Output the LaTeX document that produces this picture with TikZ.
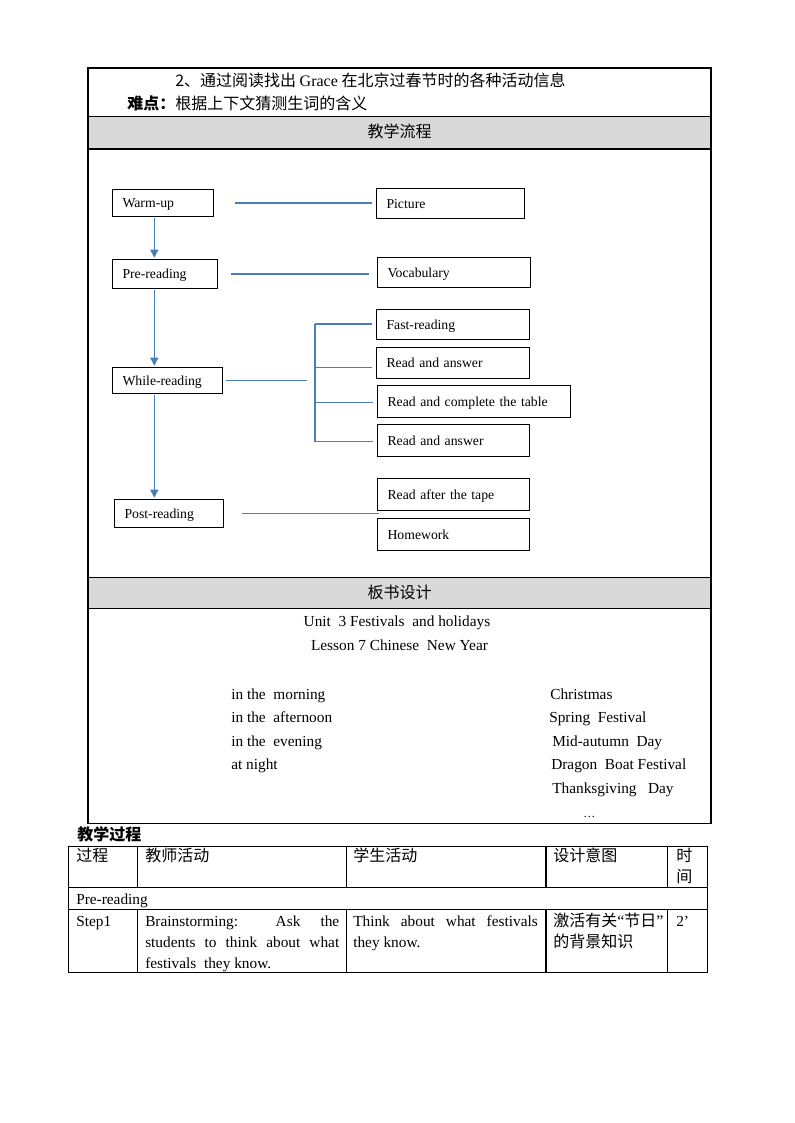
\documentclass[tikz,border=0pt]{standalone}
\usepackage{fontspec}
\setmainfont{Liberation Serif}
\newfontfamily\cjk{Noto Sans CJK SC}
\usetikzlibrary{arrows.meta}
\definecolor{linkblue}{RGB}{74,126,187}
\definecolor{bandgrey}{RGB}{217,217,217}

\begin{document}
\begin{tikzpicture}[x=0.75pt,y=-0.75pt,
  box/.style={draw,line width=0.8pt,anchor=north west,inner xsep=7.5pt,inner ysep=0pt,
    text depth=0pt,align=left,font=\fontsize{10.3}{12}\selectfont},
  link/.style={draw=linkblue,line width=1pt},
  flow/.style={link,shorten <=1pt,shorten >=1pt,-{Triangle[width=6pt,length=6pt]}},
  txt/.style={anchor=base west,inner sep=0pt,font=\fontsize{11.5}{15.75}\selectfont},
  zh/.style={anchor=base west,inner sep=0pt,font=\fontsize{12}{15.75}\selectfont\cjk},
  rule/.style={line width=1pt}]

\useasboundingbox (0,0) rectangle (794,1123);

% frame of the upper table
\fill[bandgrey] (88,116.5) rectangle (711,149);
\fill[bandgrey] (88,577.5) rectangle (711,608.5);
\draw[rule] (88,68) rectangle (711,823.5);
\draw[rule] (88,116.5) -- (711,116.5);
\draw[rule] (88,149) -- (711,149);
\draw[rule] (88,577.5) -- (711,577.5);
\draw[rule] (88,608.5) -- (711,608.5);

\node[zh] (goal) at (175,86.5) {2、通过阅读找出 {\rmfamily Grace} 在北京过春节时的各种活动信息};
\node[zh] (hard) at (127,109.5) {{\bfseries 难点：}根据上下文猜测生词的含义};
\node[zh,anchor=base] (flowhead) at (399.5,138) {教学流程};

% flow chart
\node[box,text width=60.75pt,minimum height=20.25pt] (warm) at (112,189) {Warm-up};
\node[box,text width=96pt,minimum height=22.5pt] (pic) at (376,188) {Picture};
\node[box,text width=63.75pt,minimum height=21.75pt] (pre) at (112,259) {Pre-reading};
\node[box,text width=99.75pt,minimum height=22.5pt] (voc) at (377,257) {Vocabulary};
\node[box,text width=67.5pt,minimum height=19.5pt] (while) at (112,367) {While-reading};
\node[box,text width=99.75pt,minimum height=22.5pt] (fast) at (376,309) {Fast-reading};
\node[box,text width=99.75pt,minimum height=23.25pt] (ra1) at (376,347) {Read and answer};
\node[box,text width=129.75pt,minimum height=24pt] (rct) at (377,385) {Read and complete the table};
\node[box,text width=99pt,minimum height=24pt] (ra2) at (377,424) {Read and answer};
\node[box,text width=66.75pt,minimum height=21pt] (post) at (114,499) {Post-reading};
\node[box,text width=99pt,minimum height=24pt] (rat) at (377,478) {Read after the tape};
\node[box,text width=99pt,minimum height=24pt] (hw) at (377,518) {Homework};

\coordinate (vx) at (154.3,0);
\draw[flow] (warm.south -| vx) -- (pre.north -| vx);
\draw[flow] (pre.south -| vx) -- (while.north -| vx);
\draw[flow] (while.south -| vx) -- (post.north -| vx);

\draw[link] ([shift={(21,0)}]warm.east) -- ([shift={(-4,0)}]warm.east -| pic.west);
\draw[link] ([shift={(13,0)}]pre.east) -- ([shift={(-8,0)}]pre.east -| voc.west);
\draw[link] ([shift={(18,0)}]post.east) -- ([shift={(2,0)}]post.east -| rat.west);

\coordinate (b1) at (315,324);
\coordinate (b2) at (315,367.3);
\coordinate (b3) at (315,402.7);
\coordinate (b4) at (315,441.7);
\draw[link] ([shift={(3,0)}]while.east) -- ([shift={(-8,0)}]while.east -| b1);
\draw[link] (b1) -- (b4);
\draw[link] (b1) -- ([shift={(-4,0)}]b1 -| fast.west);
\draw[link] (b2) -- ([shift={(-4,0)}]b2 -| ra1.west);
\draw[link] (b3) -- ([shift={(-4,0)}]b3 -| rct.west);
\draw[link] (b4) -- ([shift={(-4,0)}]b4 -| ra2.west);

% board design
\node[zh,anchor=base] (boardhead) at (399.5,598.5) {板书设计};
\node[txt,anchor=base] (unit) at (397,626) {Unit\ \ 3 Festivals\ \ and holidays};
\node[txt,anchor=base] (lesson) at (399.5,650) {Lesson 7 Chinese\ \ New Year};

\node[txt] (t1) at (231,699) {in the\ \ morning};
\node[txt] (t2) at (231,722.5) {in the\ \ afternoon};
\node[txt] (t3) at (231,746) {in the\ \ evening};
\node[txt] (t4) at (231,769.5) {at night};

\node[txt] (f1) at (550,699) {Christmas};
\node[txt] (f2) at (549,722.5) {Spring\ \ Festival};
\node[txt] (f3) at (552,746) {Mid-autumn\ \ Day};
\node[txt] (f4) at (551,769.5) {Dragon\ \ Boat Festival};
\node[txt] (f5) at (552,793) {Thanksgiving\ \ \ Day};
\node[txt,font=\fontsize{9}{10}\selectfont] (f6) at (583,817) {…};

% lower table
\node[zh] (process) at (77,840.5) {\bfseries 教学过程};
\draw[line width=0.8pt] (68.7,846.7) rectangle (707.7,972.7);
\draw[line width=0.8pt] (68.7,887.7) -- (707.7,887.7);
\draw[line width=0.8pt] (68.7,909.5) -- (707.7,909.5);
\draw[line width=0.8pt] (137.7,846.7) -- (137.7,887.7);
\draw[line width=0.8pt] (346.5,846.7) -- (346.5,887.7);
\draw[line width=0.8pt] (546,846.7) -- (546,887.7);
\draw[line width=0.8pt] (667.5,846.7) -- (667.5,887.7);
\draw[line width=0.8pt] (137.7,909.5) -- (137.7,972.7);
\draw[line width=0.8pt] (346.5,909.5) -- (346.5,972.7);
\draw[line width=0.8pt] (546,909.5) -- (546,972.7);
\draw[line width=0.8pt] (667.5,909.5) -- (667.5,972.7);

\node[zh] (h1) at (76,861) {过程};
\node[zh] (h2) at (145,861) {教师活动};
\node[zh] (h3) at (353,861) {学生活动};
\node[zh] (h4) at (553,861) {设计意图};
\node[zh] (h5) at (676,861) {时};
\node[zh] (h5b) at (676,882) {间};

\node[txt] (stage) at (76,904) {Pre-reading};
\node[txt] (step) at (76,926) {Step1};
\node[txt,text width=145.5pt,align=justify] (teach) at (145,926)
  {Brainstorming: Ask the\linebreak students to think about what\linebreak festivals\ \ they know.};
\node[txt,text width=138.4pt,align=justify] (learn) at (353,926)
  {Think about what festivals\linebreak they know.};
\node[zh] (aim) at (553,926) {激活有关{\rmfamily“}节日{\rmfamily”}};
\node[zh] (aimb) at (553,947) {的背景知识};
\node[txt] (time) at (676,926) {2’};

\end{tikzpicture}
\end{document}
